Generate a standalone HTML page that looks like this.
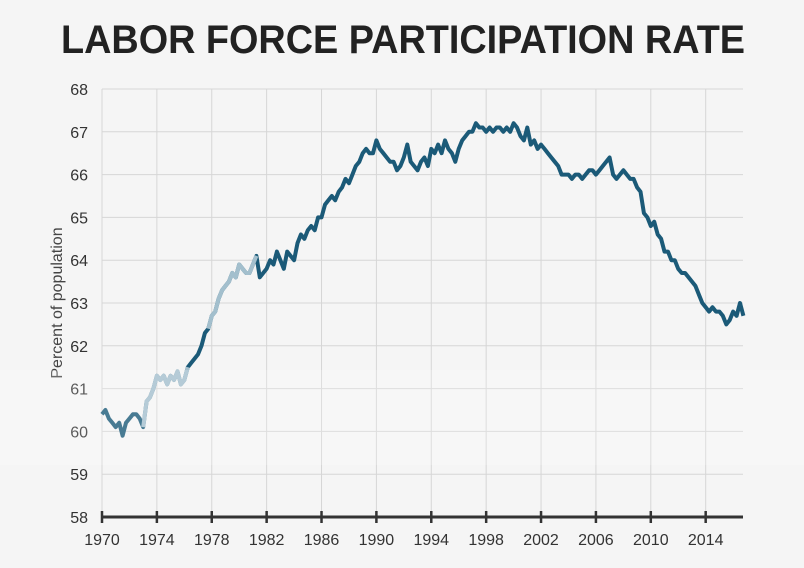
<!DOCTYPE html>
<html><head><meta charset="utf-8"><style>
body{margin:0;background:#f5f5f5;}
svg{display:block;font-family:"Liberation Sans",sans-serif;}
</style></head><body>
<svg id="chart" width="804" height="568" viewBox="0 0 804 568">
<rect width="804" height="568" fill="#f5f5f5"/>
<text x="403" y="53" text-anchor="middle" font-size="40" font-weight="bold" fill="#222" textLength="684" lengthAdjust="spacingAndGlyphs">LABOR FORCE PARTICIPATION RATE</text>
<text transform="translate(62,303) rotate(-90)" text-anchor="middle" font-size="16" fill="#444">Percent of population</text>
<g id="grid"></g><g id="series"></g><g id="axes"></g>
<rect x="0" y="370" width="804" height="95" fill="#ffffff" opacity="0.2"/>
</svg>
<script>
const startYear = 1970;
const yTicks = [58,59,60,61,62,63,64,65,66,67,68];
const xTicks = [1970,1974,1978,1982,1986,1990,1994,1998,2002,2006,2010,2014];
const rates = [
60.4,60.5,60.3,60.2, 60.1,60.2,59.9,60.2, 60.3,60.4,60.4,60.3, 60.1,60.7,60.8,61.0,
61.3,61.2,61.3,61.1, 61.3,61.2,61.4,61.1, 61.2,61.5,61.6,61.7, 61.8,62.0,62.3,62.4,
62.7,62.8,63.1,63.3, 63.4,63.5,63.7,63.6, 63.9,63.8,63.7,63.7, 63.9,64.1,63.6,63.7,
63.8,64.0,63.9,64.2, 64.0,63.8,64.2,64.1, 64.0,64.4,64.6,64.5, 64.7,64.8,64.7,65.0,
65.0,65.3,65.4,65.5, 65.4,65.6,65.7,65.9, 65.8,66.0,66.2,66.3, 66.5,66.6,66.5,66.5,
66.8,66.6,66.5,66.4, 66.3,66.3,66.1,66.2, 66.4,66.7,66.3,66.2, 66.1,66.3,66.4,66.2,
66.6,66.5,66.7,66.5, 66.8,66.6,66.5,66.3, 66.6,66.8,66.9,67.0, 67.0,67.2,67.1,67.1,
67.0,67.1,67.0,67.1, 67.1,67.0,67.1,67.0, 67.2,67.1,66.9,66.8, 67.1,66.7,66.8,66.6,
66.7,66.6,66.5,66.4, 66.3,66.2,66.0,66.0, 66.0,65.9,66.0,66.0, 65.9,66.0,66.1,66.1,
66.0,66.1,66.2,66.3, 66.4,66.0,65.9,66.0, 66.1,66.0,65.9,65.9, 65.7,65.6,65.1,65.0,
64.8,64.9,64.6,64.5, 64.2,64.2,64.0,64.0, 63.8,63.7,63.7,63.6, 63.5,63.4,63.2,63.0,
62.9,62.8,62.9,62.8, 62.8,62.7,62.5,62.6, 62.8,62.7,63.0,62.7
];
const lightRanges = [[1972.9,1976.4],[1977.7,1981.3]];
const NS="http://www.w3.org/2000/svg";
const X0=102,PX=13.72,Y0=517,PY=42.8,XR=743;
const xs=y=>X0+(y-1970)*PX, ys=v=>Y0-(v-58)*PY;
const yearOf=i=>startYear+i/4;
function mk(tag,attrs,parent){const e=document.createElementNS(NS,tag);for(const k in attrs)e.setAttribute(k,attrs[k]);parent.appendChild(e);return e;}
const grid=document.getElementById('grid'),axes=document.getElementById('axes'),series=document.getElementById('series');
yTicks.forEach(t=>{
 const l=mk('line',{x1:X0,x2:XR,y1:ys(t),y2:ys(t),stroke:'#d6d6d6','stroke-width':1},grid);
 
 
 const tx=mk('text',{x:88,y:ys(t)+6,'text-anchor':'end','font-size':16,fill:'#333'},axes);
 tx.textContent=t;
 
 
});
xTicks.forEach(t=>{
 const l=mk('line',{x1:xs(t),x2:xs(t),y1:ys(68),y2:Y0,stroke:'#d6d6d6','stroke-width':1},grid);
 
 
 const tk=mk('line',{x1:xs(t),x2:xs(t),y1:Y0-6,y2:Y0+6,stroke:'#333','stroke-width':2.5},axes);
 
 
 const tx=mk('text',{x:xs(t),y:545,'text-anchor':'middle','font-size':16,fill:'#333'},axes);
 tx.textContent=t;
 
 
});
const ax=mk('line',{x1:X0,x2:XR,y1:Y0,y2:Y0,stroke:'#333','stroke-width':3},axes);


const pts=rates.map((v,i)=>xs(yearOf(i)).toFixed(1)+','+ys(v).toFixed(1));
const main=mk('polyline',{points:pts.join(' '),fill:'none',stroke:'#1b5a78','stroke-width':4,'stroke-linejoin':'round'},series);


lightRanges.forEach(r=>{
 const p=[];rates.forEach((v,i)=>{const y=yearOf(i);if(y>=r[0]&&y<=r[1])p.push(xs(y).toFixed(1)+','+ys(v).toFixed(1));});
 const seg=mk('polyline',{points:p.join(' '),fill:'none',stroke:'#a3bfcd','stroke-width':4,'stroke-linejoin':'round'},series);
 
 
});
</script>
</body></html>
